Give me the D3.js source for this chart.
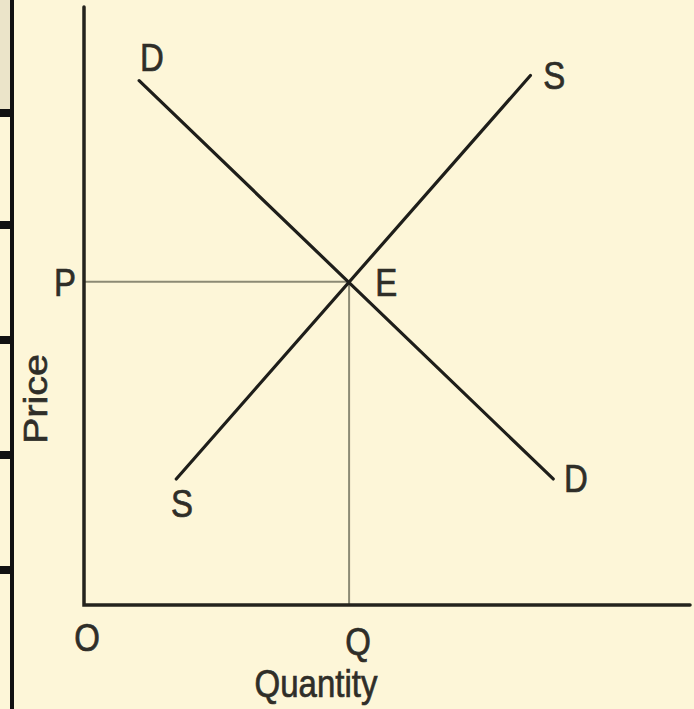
<!DOCTYPE html>
<html>
<head>
<meta charset="utf-8">
<script src="https://cdn.jsdelivr.net/npm/d3@7"></script>
<style>
  html, body { margin: 0; padding: 0; background: #fdf6d8; }
  svg { display: block; }
</style>
</head>
<body>
<div id="chart"></div>
<script>
// curve end points in (quantity, price) units
const demandPts = [[1.04, 8.11], [8.85, 1.95]];
const supplyPts = [[1.74, 1.95], [8.42, 8.19]];
const equilibrium = [5, 5];

const curveLabels = [
  { text: 'D', q: 1.28, p: 8.48 },
  { text: 'S', q: 8.87, p: 8.20 },
  { text: 'S', q: 1.85, p: 1.58 },
  { text: 'D', q: 9.28, p: 1.97 },
  { text: 'E', q: 5.70, p: 5.00 }
];
const axisLabels = { x: 'Quantity', y: 'Price', origin: 'O', eqQ: 'Q', eqP: 'P' };

// page frame on the left edge
const frameTicks = [113, 225, 340, 455, 570];

const width = 694;
const height = 709;
const font = 'Liberation Sans, Arial, sans-serif';
const ink = '#2f2e28';

const svg = d3.select('#chart')
  .append('svg')
  .attr('width', width)
  .attr('height', height)
  .style('font-family', font);

svg.append('rect')
  .attr('width', width).attr('height', height)
  .attr('fill', '#fdf6d8');

// left frame decoration
svg.append('rect')
  .attr('x', 0).attr('y', 0).attr('width', 11).attr('height', 109)
  .attr('fill', '#ebe4c9');
svg.append('line')
  .attr('x1', 12).attr('x2', 12).attr('y1', 0).attr('y2', height)
  .attr('stroke', '#111').attr('stroke-width', 4);
svg.selectAll('.frame-tick')
  .data(frameTicks)
  .join('rect')
  .attr('class', 'frame-tick')
  .attr('x', 0).attr('y', d => d - 4)
  .attr('width', 13).attr('height', 8)
  .attr('fill', '#111');

// scales
const x = d3.scaleLinear().domain([0, 11.43]).range([84, 690]);
const y = d3.scaleLinear().domain([0, 9.25]).range([605, 7]);

const line = d3.line().x(d => x(d[0])).y(d => y(d[1]));

// guide lines to P and Q
svg.append('path')
  .attr('d', line([[0, equilibrium[1]], equilibrium, [equilibrium[0], 0]]))
  .attr('fill', 'none')
  .attr('stroke', '#8c8a74')
  .attr('stroke-width', 2);

// axes
svg.append('path')
  .attr('d', line([[0, y.domain()[1]], [0, 0], [x.domain()[1], 0]]))
  .attr('fill', 'none')
  .attr('stroke', '#24231d')
  .attr('stroke-width', 3.5)
  .attr('stroke-linecap', 'round');

// demand and supply
svg.selectAll('.curve')
  .data([demandPts, supplyPts])
  .join('path')
  .attr('class', 'curve')
  .attr('d', line)
  .attr('fill', 'none')
  .attr('stroke', '#1e1e1a')
  .attr('stroke-width', 3.2)
  .attr('stroke-linecap', 'round');

// text helper: glyphs in the source are stretched vertically
function label(text, cx, cy, rotate) {
  const g = svg.append('g')
    .attr('transform', `translate(${cx},${cy})` + (rotate ? ` rotate(${rotate})` : '') + (rotate ? ' scale(1.2,1)' : ' scale(1,1.2)'));
  g.append('text')
    .attr('text-anchor', 'middle')
    .attr('dy', '0.36em')
    .attr('fill', ink)
    .attr('stroke', ink)
    .attr('stroke-width', 0.6)
    .style('font-size', '33px')
    .text(text);
}

curveLabels.forEach(d => label(d.text, x(d.q), y(d.p)));

label(axisLabels.eqP, x(0) - 19, y(equilibrium[1]));
label(axisLabels.eqQ, x(equilibrium[0]) + 9, 641);
label(axisLabels.origin, x(0) + 3, 637);
label(axisLabels.x, 316, 683);
label(axisLabels.y, 35, 399, -90);
</script>
</body>
</html>
